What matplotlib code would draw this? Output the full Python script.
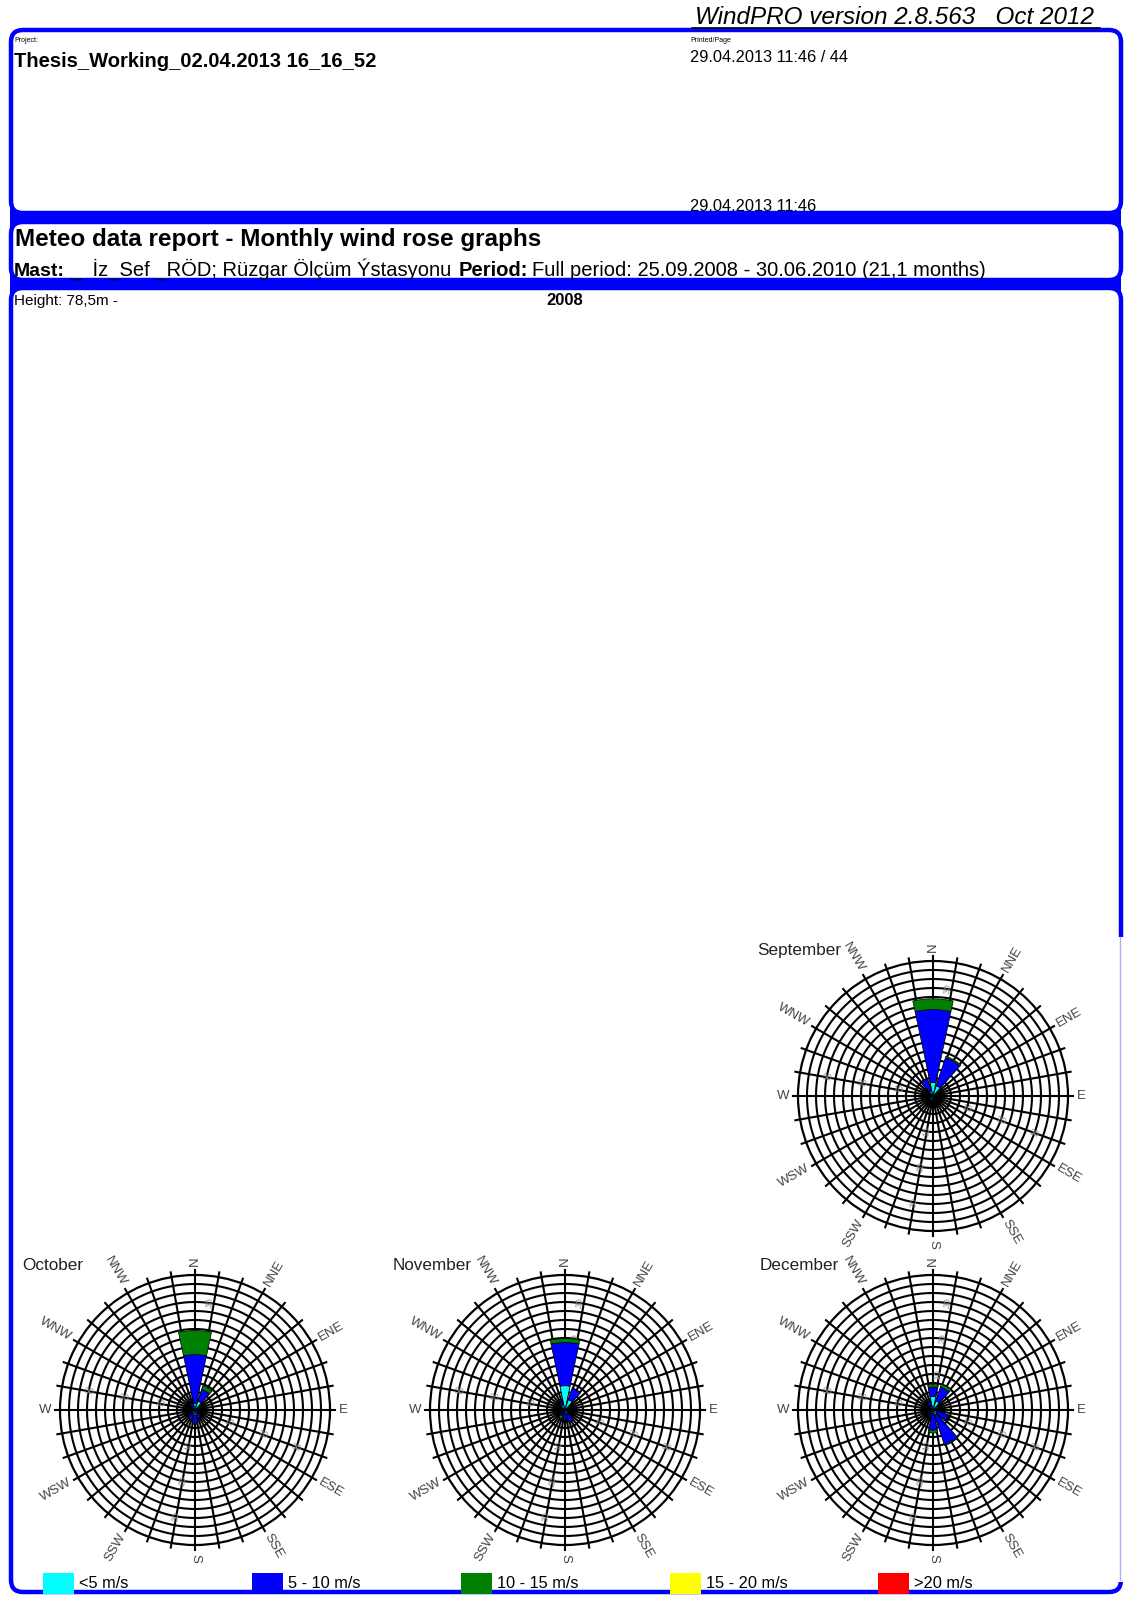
import numpy as np
import matplotlib.pyplot as plt
from matplotlib.patches import FancyBboxPatch, Rectangle

plt.rcParams['font.family'] = ['Liberation Sans', 'DejaVu Sans']

W, H = 1125, 1597

# 12 sectors, clockwise from north
sectors = ['N', 'NNE', 'ENE', 'E', 'ESE', 'SSE', 'S', 'SSW', 'WSW', 'W', 'WNW', 'NNW']
speed_classes = ['<5 m/s', '5 - 10 m/s', '10 - 15 m/s', '15 - 20 m/s', '>20 m/s']
class_colors = ['#00FFFF', '#0000FF', '#008000', '#FFFF00', '#FF0000']

# frequency (%) per sector and speed class
sep_lt5 = [3.8, 3.0, 0.8, 0.5, 0.4, 0.5, 0.8, 1.2, 0.5, 0.5, 0.6, 1.5]
sep_5_10 = [20.2, 8.2, 0.5, 0.2, 0.2, 0.3, 0.5, 0.4, 0.2, 0.3, 0.4, 3.5]
sep_10_15 = [3.0, 0.4, 0, 0, 0, 0, 0, 0, 0, 0, 0, 0]

oct_lt5 = [1.9, 2.6, 0.8, 0.5, 0.6, 1.0, 1.5, 1.2, 0.6, 0.5, 0.6, 1.0]
oct_5_10 = [13.5, 3.4, 0.5, 0.3, 0.4, 1.5, 2.2, 1.6, 0.4, 0.3, 0.4, 1.2]
oct_10_15 = [6.7, 1.1, 0, 0, 0, 0, 0.3, 0, 0, 0, 0, 0.2]

nov_lt5 = [6.75, 3.0, 0.8, 0.5, 0.6, 1.2, 1.0, 0.8, 0.6, 0.5, 0.6, 1.5]
nov_5_10 = [12.0, 3.4, 0.4, 0.3, 0.5, 2.4, 1.8, 1.0, 0.5, 0.3, 0.3, 0.8]
nov_10_15 = [1.1, 0, 0, 0, 0, 0, 0, 0.8, 0, 0, 0, 0]

dec_lt5 = [3.75, 2.6, 0.8, 0.6, 1.2, 1.5, 1.0, 1.0, 0.5, 0.5, 0.6, 1.0]
dec_5_10 = [2.6, 4.1, 0.8, 0.4, 3.3, 8.6, 4.6, 1.0, 0.4, 0.3, 0.4, 1.5]
dec_10_15 = [0.7, 0.8, 0, 0, 0, 0.3, 0.8, 0, 0, 0, 0, 0]

months = [
    ('September', (933, 1096), [sep_lt5, sep_5_10, sep_10_15]),
    ('October', (195, 1410), [oct_lt5, oct_5_10, oct_10_15]),
    ('November', (565, 1410), [nov_lt5, nov_5_10, nov_10_15]),
    ('December', (933, 1410), [dec_lt5, dec_5_10, dec_10_15]),
]
title_pos = {'September': (757, 951), 'October': (22, 1265),
             'November': (393, 1265), 'December': (760, 1265)}

RMAX = 37.5
R_PX = 135

fig = plt.figure(figsize=(W / 100, H / 100), dpi=100)
page = fig.add_axes([0, 0, 1, 1])
page.set_xlim(0, W)
page.set_ylim(H, 0)
page.axis('off')

blue = '#0000FF'
# blue bands between the frames
page.add_patch(Rectangle((10, 205), 1111, 24, color=blue, lw=0))
page.add_patch(Rectangle((10, 272), 1111, 22, color=blue, lw=0))
for y0, y1 in [(30, 213), (222, 280), (288, 1592)]:
    page.add_patch(FancyBboxPatch((11, y0), 1110, y1 - y0,
                                  boxstyle='round,pad=0,rounding_size=12',
                                  fc='white', ec=blue, lw=3.2))
# faded right edge of the lower frame
page.add_patch(Rectangle((1108, 937), 17, 645, color='white', lw=0))
page.plot([1120, 1120], [937, 1580], color='#aab0ff', lw=1)
page.plot([692, 1100], [28, 28], color='black', lw=1.2)

page.text(695, 24, 'WindPRO version 2.8.563   Oct 2012', fontsize=17.5,
          style='italic', va='baseline')
page.text(14, 42, 'Project:', fontsize=5, va='baseline')
page.text(14, 67, 'Thesis_Working_02.04.2013 16_16_52', fontsize=14.5,
          weight='bold', va='baseline')
page.text(690, 42, 'Printed/Page', fontsize=5, va='baseline')
page.text(690, 62, '29.04.2013 11:46 / 44', fontsize=11.8, va='baseline')
page.text(690, 211, '29.04.2013 11:46', fontsize=11.8, va='baseline')
page.text(15, 246, 'Meteo data report - Monthly wind rose graphs', fontsize=17.5,
          weight='bold', va='baseline')
page.text(14, 276, 'Mast:', fontsize=14, weight='bold', va='baseline')
page.text(70, 276, '_  İz_Sef _RÖD; Rüzgar Ölçüm Ýstasyonu', fontsize=14.5,
          va='baseline')
page.text(459, 276, 'Period:', fontsize=14.5, weight='bold', va='baseline')
page.text(532, 276, 'Full period: 25.09.2008 - 30.06.2010 (21,1 months)',
          fontsize=14.5, va='baseline')
page.text(14, 305, 'Height: 78,5m -', fontsize=11, va='baseline')
page.text(565, 305, '2008', fontsize=12, weight='bold', ha='center',
          va='baseline')

# legend keys
legend_x = [43, 252, 461, 670, 878]
for x, lab, col in zip(legend_x, speed_classes, class_colors):
    page.add_patch(Rectangle((x, 1573), 31, 21, color=col, lw=0))
    page.text(x + 36, 1588, lab, fontsize=11.8, va='baseline')


def rot_for(deg):
    r = 90 - deg
    while r < -90:
        r += 180
    while r > 90:
        r -= 180
    return r


theta = np.deg2rad(np.arange(12) * 30)
width = np.deg2rad(24)
circle_t = np.linspace(0, 2 * np.pi, 361)

for name, (cx, cy), classes in months:
    ax = fig.add_axes([(cx - R_PX) / W, (H - cy - R_PX) / H,
                       2 * R_PX / W, 2 * R_PX / H], projection='polar')
    ax.set_theta_zero_location('N')
    ax.set_theta_direction(-1)
    ax.set_ylim(0, RMAX)
    ax.set_xticks([])
    ax.set_yticks([])
    ax.grid(False)
    ax.patch.set_alpha(0)
    ax.spines['polar'].set_linewidth(1.6)

    # rings and spokes
    for r in np.arange(2.5, RMAX, 2.5):
        ax.plot(circle_t, np.full_like(circle_t, r), color='black', lw=1.5,
                zorder=1)
    for a in range(0, 360, 10):
        ax.plot([np.deg2rad(a)] * 2, [0, RMAX * 1.035], color='black', lw=1.5,
                zorder=1, clip_on=False)

    # faint scale labels along a few spokes
    for a in (8, 110, 190, 280):
        for v in (10, 20, 30):
            ax.text(np.deg2rad(a), v, str(v), fontsize=6.5, color='#888888',
                    rotation=rot_for(a), ha='center', va='center', zorder=2)

    bottom = np.zeros(12)
    for vals, col in zip(classes, class_colors):
        vals = np.asarray(vals, dtype=float)
        ax.bar(theta, vals, width=width, bottom=bottom, color=col,
               edgecolor='black', linewidth=0.5, zorder=3)
        bottom += vals

    # sector names, inner end anchored just outside the rose
    for i, lab in enumerate(sectors):
        deg = i * 30
        ha = 'left' if deg <= 180 else 'right'
        ax.text(np.deg2rad(deg), RMAX * 1.065, lab, fontsize=9.5,
                color='#444444', rotation=rot_for(deg), ha=ha,
                va='center', rotation_mode='anchor', clip_on=False)

    tx, ty = title_pos[name]
    page.text(tx, ty, name, fontsize=12.3, color='#222222', va='center')

fig.savefig('out.png', dpi=100)
